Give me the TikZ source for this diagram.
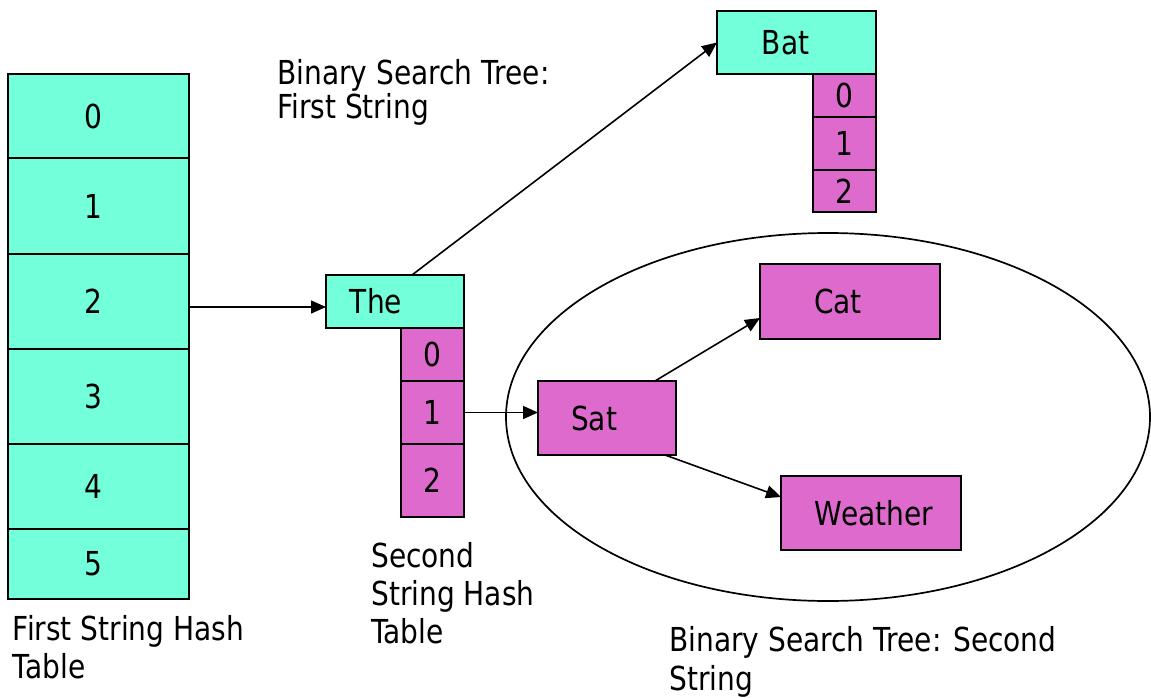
\documentclass[tikz,border=0pt]{standalone}
\usepackage{fontspec}
\setmainfont[FakeStretch=0.85]{DejaVu Sans}
\usetikzlibrary{arrows.meta,shapes.geometric,calc}
\definecolor{aqua}{RGB}{115,255,217}
\definecolor{orchid}{RGB}{221,106,204}
\begin{document}
\begin{tikzpicture}[x=1pt,y=-1pt,
  cell/.style={draw=black,line width=1.8pt,rectangle,inner sep=0pt,outer sep=0pt,font=\fontsize{33}{38}\selectfont},
  hcell/.style={cell,fill=aqua,minimum width=181pt},
  tcell/.style={cell,fill=orchid,minimum width=63pt},
  abox/.style={cell,fill=aqua},
  pbox/.style={cell,fill=orchid},
  arr/.style={line width=1.6pt,-{Triangle[length=15pt,width=13pt]}},
  lbl/.style={anchor=base west,align=left,inner sep=0pt,font=\fontsize{33}{38}\selectfont}]
\useasboundingbox (0,0) rectangle (1151,698);

% ellipse around second tree
\node[draw,ellipse,line width=1.7pt,minimum width=644pt,minimum height=368pt,inner sep=0pt] (tree2) at (828,417) {};

% first string hash table
\node[hcell,minimum height=84pt] (h0) at (98.5,116) {0\rule{10pt}{0pt}};
\node[hcell,minimum height=96pt] (h1) at (98.5,206) {1\rule{10pt}{0pt}};
\node[hcell,minimum height=95pt] (h2) at (98.5,301.5) {2\rule{10pt}{0pt}};
\node[hcell,minimum height=95pt] (h3) at (98.5,396.5) {3\rule{10pt}{0pt}};
\node[hcell,minimum height=85pt] (h4) at (98.5,486.5) {4\rule{10pt}{0pt}};
\node[hcell,minimum height=70pt] (h5) at (98.5,564) {5\rule{10pt}{0pt}};

% The + second string hash table
\node[abox,minimum width=138pt,minimum height=53pt] (the) at (395,301.5) {The\rule{38pt}{0pt}};
\node[tcell,minimum height=53pt] (t0) at (432.5,354.5) {0};
\node[tcell,minimum height=63pt] (t1) at (432.5,412.5) {1};
\node[tcell,minimum height=73pt] (t2) at (432.5,480.5) {2};

% Bat
\node[abox,minimum width=159pt,minimum height=63pt] (bat) at (796.5,42.5) {Bat\rule{22pt}{0pt}};
\node[tcell,minimum height=43pt] (b0) at (844.5,95.5) {0};
\node[tcell,minimum height=53pt] (b1) at (844.5,143.5) {1};
\node[tcell,minimum height=42pt] (b2) at (844.5,191) {2};

% second tree
\node[pbox,minimum width=138pt,minimum height=74pt] (sat) at (607,418) {Sat\rule{26pt}{0pt}};
\node[pbox,minimum width=180pt,minimum height=75pt] (cat) at (850,301.5) {Cat\rule{24pt}{0pt}};
\node[pbox,minimum width=180pt,minimum height=74pt] (weather) at (871,513) {\rule{6pt}{0pt}Weather};

% connectors
\coordinate (tin) at ([yshift=-5.5pt]the.west);
\draw[arr] (tin -| h2.east) -- (tin);
\draw[arr] ([xshift=17pt]the.north) -- (bat.west);
\draw[arr] (t1.east) -- (t1.east -| sat.west);
\draw[arr] ([xshift=48pt]sat.north) -- ([yshift=-16.5pt]cat.west);
\draw[arr] ([xshift=58pt]sat.south) -- ([yshift=16pt]weather.west);

% labels (anchored at the baseline of their last line)
\node[lbl,font=\fontsize{33}{34}\selectfont] (lab1) at (277,119) {Binary Search Tree:\\First String};
\node[lbl] (lab2) at (371,643) {Second\\String Hash\\Table};
\node[lbl] (lab3) at (12.7,678) {First String Hash\\Table};
\node[lbl,font=\fontsize{33}{39}\selectfont] (lab4) at (669,690) {Binary Search Tree: Second\\String};
\end{tikzpicture}
\end{document}
